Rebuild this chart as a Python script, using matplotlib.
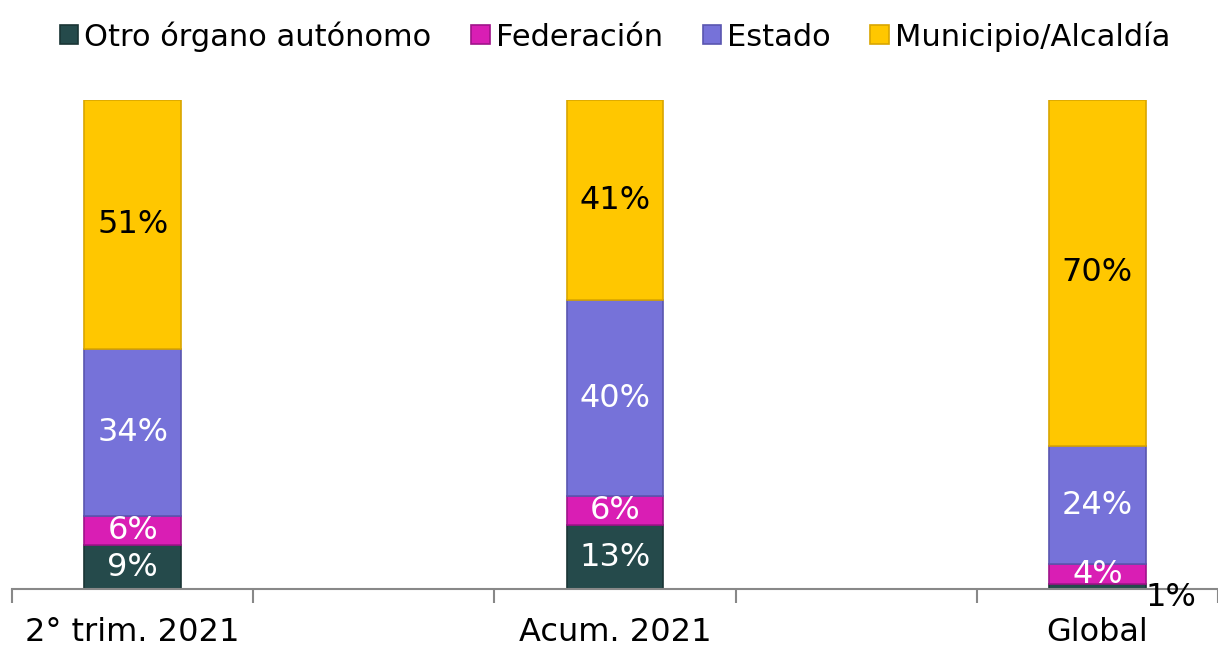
import matplotlib.pyplot as plt
import numpy as np

categories = ["2° trim. 2021", "", "Acum. 2021", "", "Global"]
series = ["Otro órgano autónomo", "Federación", "Estado", "Municipio/Alcaldía"]
otro = [9, None, 13, None, 1]
federacion = [6, None, 6, None, 4]
estado = [34, None, 40, None, 24]
municipio = [51, None, 41, None, 70]

colors = ["#254a4b", "#d91eb4", "#7672d9", "#ffc700"]
edges = ["#1a3535", "#a0148a", "#5a56b0", "#d9a600"]
text_colors = ["white", "white", "white", "black"]

data = [otro, federacion, estado, municipio]
idx = [i for i, v in enumerate(otro) if v is not None]
vals = np.array([[d[i] for i in idx] for d in data], dtype=float)
# bars are drawn as shares of 100%
vals = vals / vals.sum(axis=0) * 100

fig = plt.figure(figsize=(12.18, 6.47), dpi=100)
ax = fig.add_axes([0.0099, 0.0896, 0.9901, 0.7559])

bottom = np.zeros(len(idx))
for k, name in enumerate(series):
    ax.bar(idx, vals[k], 0.4, bottom=bottom, color=colors[k],
           edgecolor=edges[k], linewidth=1.2, label=name)
    for j, i in enumerate(idx):
        lab = data[k][i]
        y = bottom[j] + vals[k][j] / 2
        if vals[k][j] < 2:
            ax.text(i + 0.2, bottom[j] - 1.8, f"{lab}%", ha="left", va="center",
                    fontsize=23, color="black")
        else:
            ax.text(i, y, f"{lab}%", ha="center", va="center",
                    fontsize=23, color=text_colors[k])
    bottom += vals[k]

ax.set_xlim(-0.5, 4.5)
ax.set_ylim(0, 100)
ax.set_yticks([])
ax.set_xticks([0, 2, 4])
ax.set_xticklabels([categories[i] for i in (0, 2, 4)], fontsize=23)
ax.set_xticks(np.arange(-0.5, 5, 1), minor=True)
ax.tick_params(axis="x", which="major", length=0, pad=20)
ax.tick_params(axis="x", which="minor", length=10, color="#888888", width=1.5)
for s in ["top", "left", "right"]:
    ax.spines[s].set_visible(False)
ax.spines["bottom"].set_color("#888888")
ax.spines["bottom"].set_linewidth(1.5)

fig.legend(loc="upper center", bbox_to_anchor=(0.505, 1.01), ncol=4, fontsize=22,
           frameon=False, handlelength=0.6, handleheight=0.6, handletextpad=0.2,
           columnspacing=1.3)

fig.savefig("out.png", dpi=100)
